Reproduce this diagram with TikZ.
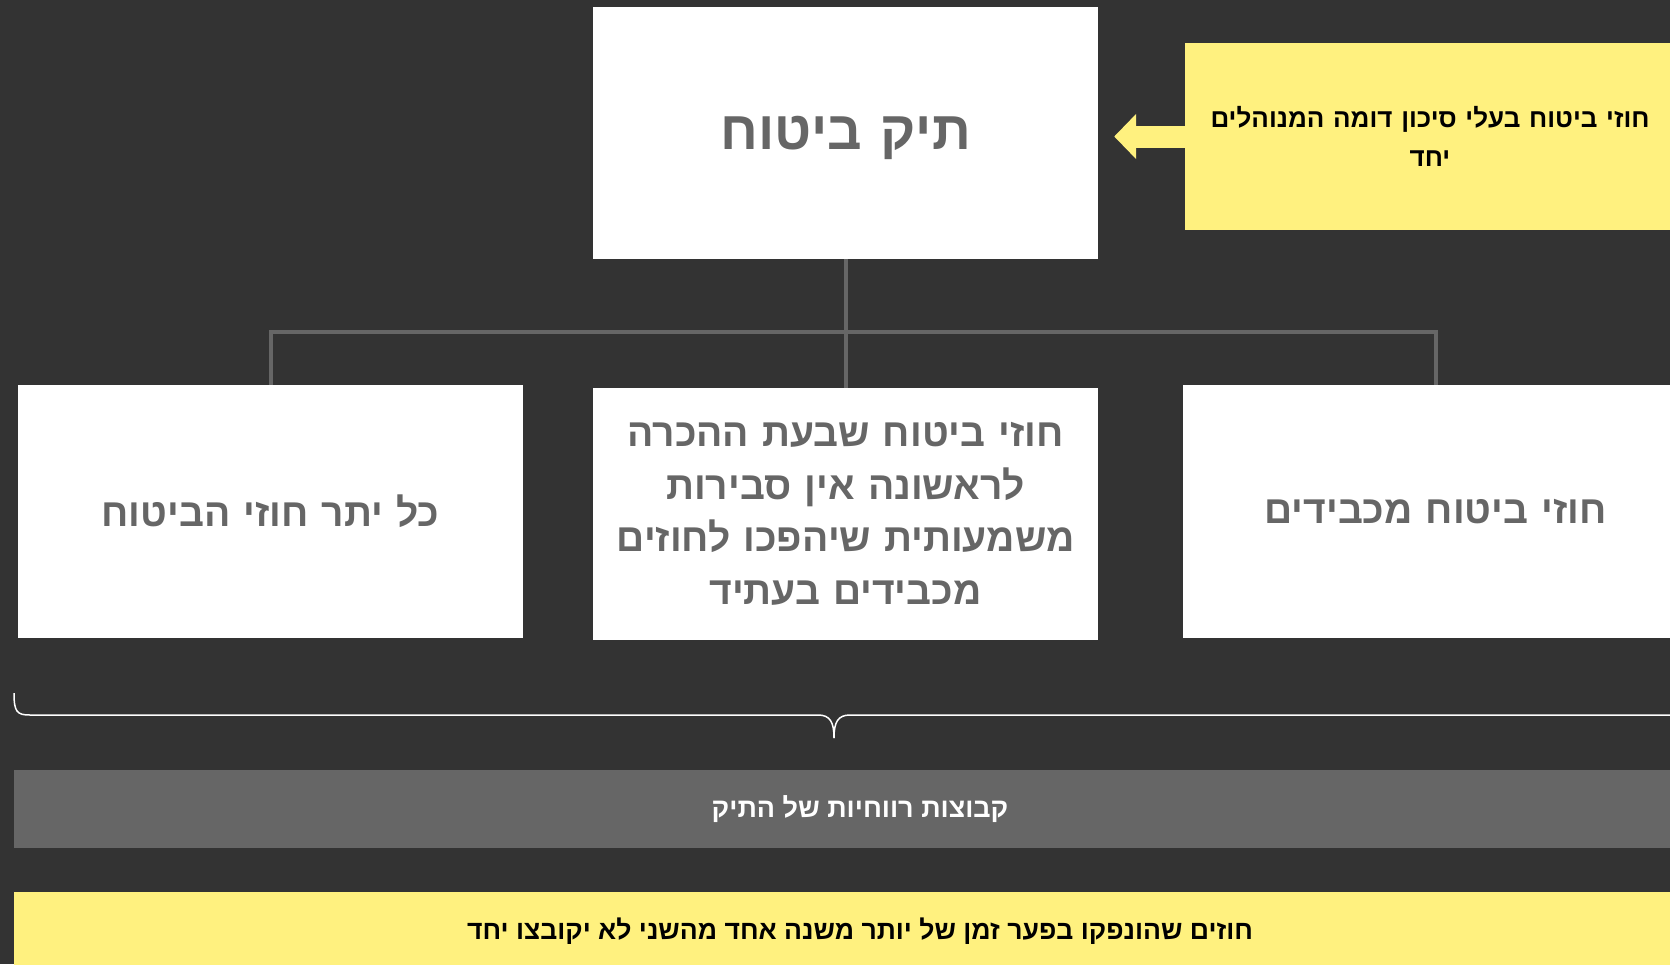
\documentclass[tikz,border=0pt]{standalone}
\usepackage{fontspec}
\setmainfont{Liberation Sans}
\newfontfamily\hebfont[Script=Hebrew]{Liberation Sans}
\TeXXeTstate=1
\newcommand{\rtl}[1]{\beginR#1\endR}
\usetikzlibrary{arrows.meta}
\definecolor{bgdark}{HTML}{333333}
\definecolor{boxgray}{HTML}{666666}
\definecolor{noteyellow}{HTML}{FFF17F}
\begin{document}
\begin{tikzpicture}[x=1pt,y=-1pt,
    whitebox/.style={fill=white,text=boxgray,minimum width=505pt,minimum height=253pt,
      align=center,text width=480pt,font=\hebfont\bfseries\fontsize{39}{52.5}\selectfont},
    notebox/.style={fill=noteyellow,text=black,align=center,text width=480pt,
      font=\hebfont\bfseries\fontsize{26}{39.5}\selectfont},
    bar/.style={minimum width=1692pt,minimum height=78pt,align=center,
      font=\hebfont\bfseries\fontsize{27}{32}\selectfont},
    link/.style={draw=boxgray,line width=4pt}]
  \useasboundingbox (0,0) rectangle (1670,964);
  \clip (0,0) rectangle (1670,964);
  \fill[bgdark] (0,0) rectangle (1670,964);
  \node[whitebox,minimum height=252pt,text depth=0pt,font=\hebfont\bfseries\fontsize{54}{64}\selectfont] (portfolio) at (845.5,133) {\rtl{תיק ביטוח}};
  \node[whitebox] (rest) at (270.5,511.5) {\rtl{כל יתר חוזי הביטוח}};
  \node[whitebox,minimum height=252pt] (nosignif) at (845.5,514)
    {\rtl{חוזי ביטוח שבעת ההכרה}\\\rtl{לראשונה אין סבירות}\\\rtl{משמעותית שיהפכו לחוזים}\\\rtl{מכבידים בעתיד}};
  \node[whitebox] (onerous) at (1435.5,511.5) {\rtl{חוזי ביטוח מכבידים}};
  \node[notebox,minimum width=490pt,minimum height=187pt] (similar) at (1430,136.5)
    {\rtl{חוזי ביטוח בעלי סיכון דומה המנוהלים}\\\rtl{יחד}};
  \node[bar,fill=boxgray,text=white] (groups) at (860,809) {\rtl{קבוצות רווחיות של התיק}};
  \node[bar,fill=noteyellow,text=black,font=\hebfont\bfseries\fontsize{26.6}{32}\selectfont] (cohort) at (860,931)
    {\rtl{חוזים שהונפקו בפער זמן של יותר משנה אחד מהשני לא יקובצו יחד}};
  \coordinate (split) at (845.5,332);
  \draw[link] (portfolio.south) -- (nosignif.north);
  \draw[link] (rest.north) |- (split) -| (onerous.north);
  \draw[noteyellow,line width=22pt,-{Triangle[width=44pt,length=22pt]},shorten >=16pt]
    (similar.west) -- (similar.west -| portfolio.east);
  \coordinate (tip) at (834,738);
  \draw[white,line width=1.5pt] (14,693) .. controls (14,712) and (17,715) .. (30,715)
    -- (818,715) .. controls (830,715) and (834,722) .. (tip);
  \draw[white,line width=1.5pt] (tip) .. controls (834,722) and (838,715) .. (850,715)
    -- (1680,715);
\end{tikzpicture}
\end{document}
